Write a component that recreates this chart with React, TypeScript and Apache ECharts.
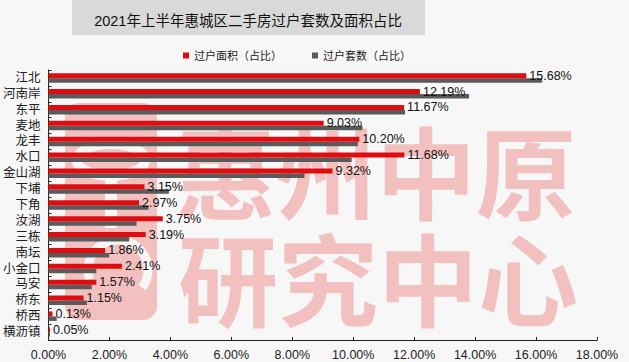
import React, { useEffect, useRef } from "react";
import * as echarts from "echarts";

const categories = ["江北", "河南岸", "东平", "麦地", "龙丰", "水口", "金山湖", "下埔", "下角", "汝湖", "三栋", "南坛", "小金口", "马安", "桥东", "桥西", "横沥镇"];
const areaShare = [15.68, 12.19, 11.67, 9.03, 10.2, 11.68, 9.32, 3.15, 2.97, 3.75, 3.19, 1.86, 2.41, 1.57, 1.15, 0.13, 0.05];
const countShare = [16.2, 13.8, 11.7, 10.3, 10.15, 9.95, 8.4, 3.95, 3.28, 2.89, 2.65, 1.99, 1.57, 1.42, 1.26, 0.27, 0.05];
const xTicks = [0, 2, 4, 6, 8, 10, 12, 14, 16, 18];
const seriesNames = ["过户面积（占比）", "过户套数（占比）"];
const titleText = "2021年上半年惠城区二手房过户套数及面积占比";

const FONT = "'Liberation Sans', 'Noto Sans CJK SC', sans-serif";
const PINK = "#f3c0c0";
const BG = "#f7f7f7";

export default function App() {
  const ref = useRef<HTMLDivElement>(null);
  useEffect(() => {
    if (!ref.current) return;
    const chart = echarts.init(ref.current, null, { renderer: "svg" });
    chart.setOption({
      animation: false,
      backgroundColor: BG,
      textStyle: { fontFamily: FONT },
      legend: {
        data: seriesNames,
        left: 178,
        top: 45,
        itemWidth: 6,
        itemHeight: 6,
        itemGap: 30,
        icon: "rect",
        textStyle: { fontSize: 11, color: "#222", fontFamily: FONT },
      },
      graphic: [
        { type: "rect", z: -20, shape: { x: 72, y: 0, width: 353, height: 35 }, style: { fill: "#d9d9d9" } },
        { type: "text", z: -10, x: 248, y: 21, style: { text: titleText, fill: "#111", font: "14.5px 'Liberation Sans', 'Noto Sans CJK SC', sans-serif", textAlign: "center", textVerticalAlign: "middle" } },
        // watermark logo (approximate)
        { type: "rect", z: -5, shape: { x: 65, y: 103, width: 92, height: 217, r: 14 }, style: { fill: PINK } },
        { type: "ellipse", z: -4, shape: { cx: 111, cy: 160, rx: 34, ry: 16 }, style: { fill: "none", stroke: BG, lineWidth: 10 } },
        { type: "rect", z: -4, shape: { x: 105, y: 176, width: 12, height: 52 }, style: { fill: BG } },
        { type: "arc", z: -4, shape: { cx: 118, cy: 270, r: 30, startAngle: Math.PI * 0.9, endAngle: Math.PI * 2.2 }, style: { fill: "none", stroke: BG, lineWidth: 9 } },
        { type: "text", z: -5, x: 376, y: 168, style: { text: "惠州中原", fill: PINK, font: "bold 100px 'Noto Sans CJK SC', sans-serif", textAlign: "center", textVerticalAlign: "middle" } },
        { type: "text", z: -5, x: 378, y: 275, style: { text: "研究中心", fill: PINK, font: "bold 100px 'Noto Sans CJK SC', sans-serif", textAlign: "center", textVerticalAlign: "middle" } },
      ],
      grid: { left: 48, right: 32, top: 70, height: 270, containLabel: false },
      xAxis: {
        type: "value",
        min: 0,
        max: 18,
        interval: 2,
        axisLine: { show: true, lineStyle: { color: "#222" } },
        axisTick: { show: true, inside: true, length: 3, lineStyle: { color: "#222" } },
        splitLine: { show: false },
        axisLabel: {
          fontSize: 12.5,
          color: "#222",
          margin: 9,
          fontFamily: FONT,
          formatter: (v: number) => (xTicks.includes(v) ? v.toFixed(2) + "%" : ""),
        },
      },
      yAxis: {
        type: "category",
        data: categories,
        inverse: true,
        axisLine: { show: true, lineStyle: { color: "#222" } },
        axisTick: { show: true, inside: true, length: 3, interval: 0, lineStyle: { color: "#222" } },
        axisLabel: { interval: 0, fontSize: 12.5, color: "#222", margin: 8, fontFamily: FONT },
      },
      series: [
        {
          name: seriesNames[0],
          type: "bar",
          data: areaShare,
          barWidth: 5,
          barGap: "0%",
          z: 3,
          itemStyle: { color: "#e00d10" },
          label: {
            show: true,
            position: "right",
            distance: 3,
            fontSize: 12.5,
            color: "#111",
            fontFamily: FONT,
            formatter: (p: any) => p.value.toFixed(2) + "%",
          },
        },
        {
          name: seriesNames[1],
          type: "bar",
          data: countShare,
          barWidth: 4.5,
          barGap: "0%",
          z: 2,
          itemStyle: { color: "#5a5a5a" },
        },
      ],
    });
    return () => chart.dispose();
  }, []);
  return <div ref={ref} style={{ position: "fixed", left: 0, top: 0, width: 629, height: 362 }} />;
}
